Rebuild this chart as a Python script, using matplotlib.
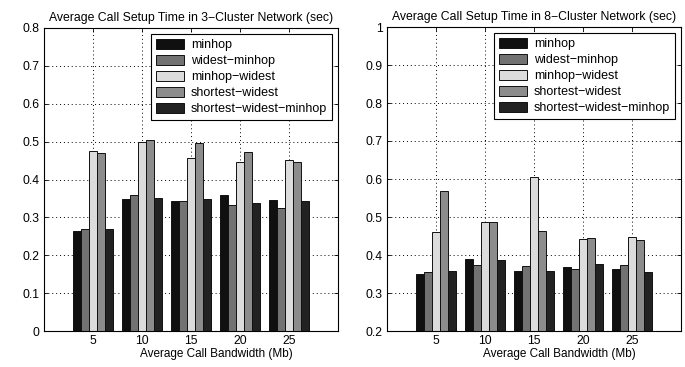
import matplotlib
matplotlib.use("Agg")
import matplotlib.pyplot as plt
import numpy as np
from matplotlib.ticker import FormatStrFormatter

plt.rcParams['font.family'] = ['Liberation Sans', 'DejaVu Sans']

bandwidths = [5, 10, 15, 20, 25]
series_names = ["minhop", "widest\u2212minhop", "minhop\u2212widest",
                "shortest\u2212widest", "shortest\u2212widest\u2212minhop"]
series_colors = ["#101010", "#727272", "#dcdcdc", "#8c8c8c", "#222222"]

# Average call setup time (sec), 3-cluster network
setup_3 = {
    "minhop":                [0.263, 0.348, 0.342, 0.359, 0.345],
    "widest-minhop":         [0.269, 0.358, 0.344, 0.333, 0.326],
    "minhop-widest":         [0.475, 0.500, 0.457, 0.447, 0.452],
    "shortest-widest":       [0.469, 0.503, 0.496, 0.473, 0.447],
    "shortest-widest-minhop": [0.270, 0.351, 0.348, 0.338, 0.342],
}

# Average call setup time (sec), 8-cluster network
setup_8 = {
    "minhop":                [0.350, 0.389, 0.358, 0.368, 0.362],
    "widest-minhop":         [0.356, 0.373, 0.371, 0.363, 0.375],
    "minhop-widest":         [0.460, 0.488, 0.605, 0.443, 0.448],
    "shortest-widest":       [0.568, 0.488, 0.462, 0.446, 0.440],
    "shortest-widest-minhop": [0.359, 0.387, 0.359, 0.376, 0.355],
}

FS = 8.2


def draw_panel(ax, data, title, ylim, yticks):
    x = np.arange(1, len(bandwidths) + 1)
    n = len(data)
    w = 0.8 / n
    for i, (key, vals) in enumerate(data.items()):
        offs = (i - (n - 1) / 2) * w
        base = ylim[0]
        ax.bar(x + offs, np.array(vals) - base, width=w, bottom=base,
               color=series_colors[i], edgecolor="#111111", linewidth=0.7,
               label=series_names[i], zorder=2)
    ax.set_xlim(0, 6)
    ax.set_ylim(*ylim)
    ax.set_xticks(x)
    ax.set_xticklabels([str(b) for b in bandwidths])
    ax.set_yticks(yticks)
    ax.yaxis.set_major_formatter(FormatStrFormatter('%g'))
    ax.grid(True, color="black", linestyle=(0, (1, 3)), linewidth=0.7)
    ax.set_axisbelow(True)
    ax.tick_params(direction="in", top=True, right=True, length=3,
                   labelsize=FS + 0.5, pad=3, width=0.6)
    for s in ax.spines.values():
        s.set_linewidth(0.8)
    ax.set_title(title, fontsize=FS + 0.6, pad=5)
    ax.set_xlabel("Average Call Bandwidth (Mb)", fontsize=FS + 0.3)
    ax.xaxis.set_label_coords(0.588, -0.055)
    leg = ax.legend(loc="upper right", fontsize=FS + 0.8, fancybox=False,
                    framealpha=1, edgecolor="black", borderaxespad=0.45,
                    handlelength=2.3, handleheight=0.85, labelspacing=0.3,
                    handletextpad=0.55, borderpad=0.4)
    leg.get_frame().set_linewidth(0.8)


fig = plt.figure(figsize=(6.85, 3.67), dpi=100)
ax1 = fig.add_axes([44 / 685, 1 - 331 / 367, 294 / 685, 303 / 367])
ax2 = fig.add_axes([387 / 685, 1 - 331 / 367, 294 / 685, 304 / 367])

draw_panel(ax1, setup_3, "Average Call Setup Time in 3\u2212Cluster Network (sec)",
           (0, 0.8), np.arange(0, 0.81, 0.1))
draw_panel(ax2, setup_8, "Average Call Setup Time in 8\u2212Cluster Network (sec)",
           (0.2, 1.0), np.arange(0.2, 1.01, 0.1))

fig.savefig("out.png", dpi=100)
